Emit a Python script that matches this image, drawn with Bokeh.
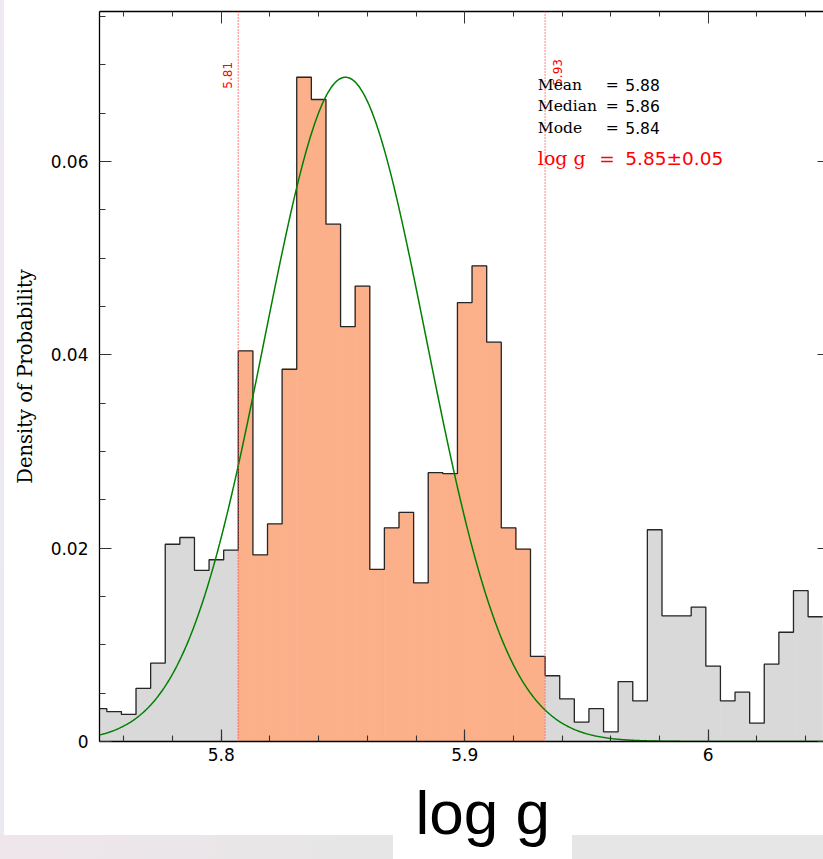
import numpy as np
from bokeh.plotting import figure
from bokeh.models import Range1d, FixedTicker, LinearAxis, Span, Label, Title, ColumnDataSource
from bokeh.embed import file_html
from bokeh.resources import INLINE

# ---------------- data ----------------
bin_start = 5.747          # left edge of first (partly hidden) bin
bin_width = 0.006
density = [0.0034, 0.0031, 0.0028, 0.0055, 0.0081, 0.0204, 0.0211, 0.0177, 0.0188, 0.0198,
           0.0404, 0.0193, 0.0225, 0.0385, 0.0687, 0.0664, 0.0535, 0.0429, 0.0471, 0.0178,
           0.0221, 0.0237, 0.0164, 0.0278, 0.0277, 0.0454, 0.0492, 0.0413, 0.0221, 0.0199,
           0.0088, 0.0068, 0.0044, 0.0020, 0.0034, 0.0010, 0.0062, 0.0042, 0.0219, 0.0130,
           0.0130, 0.0139, 0.0078, 0.0042, 0.0051, 0.0019, 0.0080, 0.0113, 0.0156, 0.0129]
interval_lo = 5.807
interval_hi = 5.933
interval_labels = ["5.81", "5.93"]
fit_mu = 5.851
fit_sigma = 0.0332
fit_peak = 0.0687
stat_names = ["Mean", "Median", "Mode"]
stat_values = ["5.88", "5.86", "5.84"]
result_name = "log g"
result_value = "5.85\u00b10.05"
x_label = "log g"
y_label = "Density of Probability"
x_ticks = [5.8, 5.9, 6.0]
x_tick_labels = ["5.8", "5.9", "6"]
y_ticks = [0.0, 0.02, 0.04, 0.06]
y_tick_labels = ["0", "0.02", "0.04", "0.06"]

# ---------------- layout constants ----------------
X0, X1 = 5.75, 5.75 + 724 / 2435.0
Y0, Y1 = 0.0, 0.0755
x_minor = [round(v, 2) for v in np.arange(5.74, 6.07, 0.02)]
y_minor = [round(v, 3) for v in np.arange(0.0, 0.08, 0.005)]

p = figure(width=823, height=859, x_range=Range1d(X0, X1), y_range=Range1d(Y0, Y1),
           output_backend="svg", toolbar_location=None,
           min_border_left=99, min_border_top=11, min_border_bottom=118, min_border_right=0)
p.background_fill_color = "white"
p.border_fill_alpha = 0
p.outline_line_color = None
p.xgrid.visible = False
p.ygrid.visible = False
p.styles = {"background":
            "linear-gradient(to right, #efe6ec, #e6e6e6 100%) 0px 835px / 393px 24px no-repeat, "
            "linear-gradient(#e6e6e6, #e6e6e6) 572px 835px / 251px 24px no-repeat, "
            "linear-gradient(#eee9f2, #ece8f0) 0px 0px / 4px 835px no-repeat, #ffffff"}

# histogram fill
edges = bin_start + bin_width * np.arange(len(density) + 1)
centers = (edges[:-1] + edges[1:]) / 2
colors = ["#fcb089" if interval_lo < c < interval_hi else "#d9d9d9" for c in centers]
src = ColumnDataSource(dict(left=edges[:-1], right=edges[1:], top=density,
                            bottom=[0] * len(density), color=colors))
p.quad(left="left", right="right", top="top", bottom="bottom", fill_color="color",
       line_color="color", line_width=0.8, source=src)

# step outline
sx = np.repeat(edges, 2)[1:-1]
sy = np.repeat(density, 2)
p.line(sx, sy, line_color="#262626", line_width=1.3)

# gaussian fit
xx = np.linspace(X0, 6.05, 500)
yy = fit_peak * np.exp(-0.5 * ((xx - fit_mu) / fit_sigma) ** 2)
p.line(xx, yy, line_color="#008000", line_width=1.5)

# interval lines
for loc in (interval_lo, interval_hi):
    p.add_layout(Span(location=loc, dimension="height", line_color="#ff4d4d",
                      line_dash="1 2", line_width=1.4))
p.add_layout(Label(x=interval_lo, y=0.0689, x_offset=-11, text=interval_labels[0], angle=np.pi / 2,
                   text_align="center", text_baseline="middle", text_color="red",
                   text_font="DejaVu Sans", text_font_size="12px"))
p.add_layout(Label(x=interval_hi, y=0.0692, x_offset=12, text=interval_labels[1], angle=np.pi / 2,
                   text_align="center", text_baseline="middle", text_color="red",
                   text_font="DejaVu Sans", text_font_size="12px"))

# statistics text
stat_y = [0.0679, 0.0657, 0.0635]
tx = interval_hi - 0.003
for name, val, yv in zip(stat_names, stat_values, stat_y):
    p.add_layout(Label(x=tx, y=yv, text=name, text_font="DejaVu Serif", text_font_size="15.5px",
                       text_color="black", text_baseline="alphabetic"))
    p.add_layout(Label(x=tx, y=yv, x_offset=68, text="=", text_font="DejaVu Sans",
                       text_font_size="15.5px", text_color="black", text_baseline="alphabetic"))
    p.add_layout(Label(x=tx, y=yv, x_offset=87.5, text=val, text_font="DejaVu Sans",
                       text_font_size="15.5px", text_color="black", text_baseline="alphabetic"))
ry = 0.0603
p.add_layout(Label(x=tx, y=ry, text=result_name, text_font="DejaVu Serif", text_font_size="19px",
                   text_color="red", text_baseline="alphabetic"))
p.add_layout(Label(x=tx, y=ry, x_offset=61.5, text="=", text_font="DejaVu Sans",
                   text_font_size="18.5px", text_color="red", text_baseline="alphabetic"))
p.add_layout(Label(x=tx, y=ry, x_offset=87.5, text=result_value, text_font="DejaVu Sans",
                   text_font_size="18.5px", text_color="red", text_baseline="alphabetic"))

# axes
xb = p.below[0]
yl = p.left[0]
xb.ticker = FixedTicker(ticks=x_ticks, minor_ticks=x_minor)
xb.major_label_overrides = {t: l for t, l in zip(x_ticks, x_tick_labels)}
yl.ticker = FixedTicker(ticks=y_ticks, minor_ticks=y_minor)
yl.major_label_overrides = {t: l for t, l in zip(y_ticks, y_tick_labels)}
for ax in (xb, yl):
    ax.axis_line_color = "black"
    ax.axis_line_width = 1.3
    ax.major_tick_in = 12
    ax.major_tick_out = 0
    ax.minor_tick_in = 6
    ax.minor_tick_out = 0
    ax.major_tick_line_color = "#333333"
    ax.minor_tick_line_color = "#333333"
    ax.major_tick_line_width = 1.2
    ax.minor_tick_line_width = 1.1
    ax.major_label_text_font = "DejaVu Sans"
    ax.major_label_text_font_size = "17px"
    ax.major_label_text_color = "black"
xb.major_label_standoff = 6
yl.major_label_standoff = 11
yl.axis_label = y_label
yl.axis_label_text_font = "DejaVu Serif"
yl.axis_label_text_font_size = "19.5px"
yl.axis_label_text_font_style = "normal"
yl.axis_label_text_color = "black"
yl.axis_label_standoff = 11

# big x label as a title below the axis
p.add_layout(Title(text=x_label, text_font="Liberation Sans", text_font_size="62px",
                   text_font_style="normal", text_color="black", align="left",
                   vertical_align="bottom", offset=316, standoff=24,
                   text_line_height=0.7), "below")

top = LinearAxis(ticker=FixedTicker(ticks=x_ticks, minor_ticks=x_minor),
                 major_tick_in=12, major_tick_out=0, minor_tick_in=5, minor_tick_out=0,
                 axis_line_color="black", axis_line_width=1.3,
                 major_tick_line_color="#333333", minor_tick_line_color="#333333",
                 major_label_overrides={t: "" for t in x_ticks},
                 major_label_text_font_size="0px", major_label_standoff=0)
p.add_layout(top, "above")
right = LinearAxis(ticker=FixedTicker(ticks=y_ticks, minor_ticks=[]),
                   major_tick_in=6, major_tick_out=0, minor_tick_in=0, minor_tick_out=0,
                   axis_line_color=None, major_tick_line_color="#333333",
                   major_label_overrides={t: "" for t in y_ticks},
                   major_label_text_font_size="0px", major_label_standoff=0)
p.add_layout(right, "right")

open("out.html", "w").write(file_html(p, INLINE))
